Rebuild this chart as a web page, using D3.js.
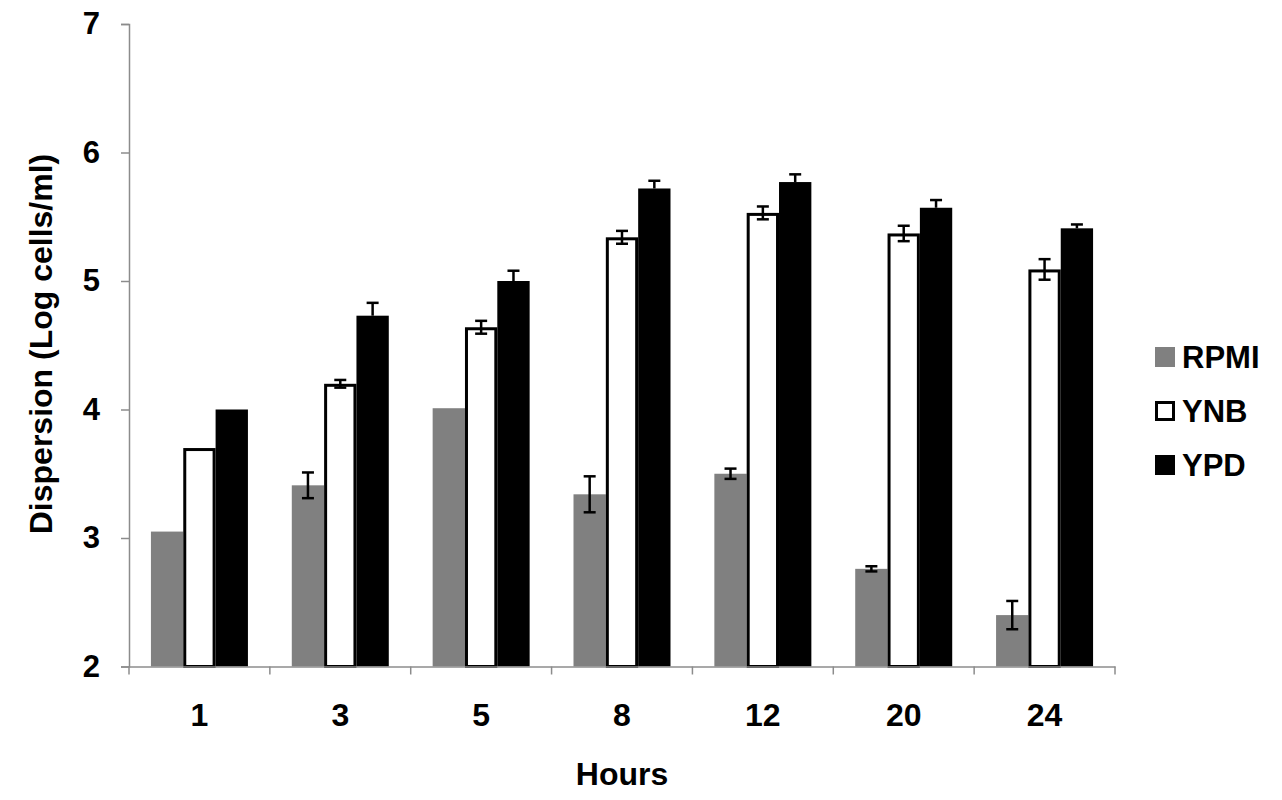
<!DOCTYPE html>
<html>
<head>
<meta charset="utf-8">
<script src="https://cdn.jsdelivr.net/npm/d3@7"></script>
<style>
  html, body { margin: 0; padding: 0; background: #fff; }
  svg { display: block; }
  text { font-family: "Liberation Sans", Arial, sans-serif; font-weight: bold; fill: #000; }
</style>
</head>
<body>
<svg id="chart" width="1282" height="800"></svg>
<script>
const categories = ["1", "3", "5", "8", "12", "20", "24"];
const seriesNames = ["RPMI", "YNB", "YPD"];
const rpmi    = [3.05, 3.41, 4.01, 3.34, 3.50, 2.76, 2.40];
const rpmiErr = [0,    0.10, 0,    0.14, 0.04, 0.02, 0.11];
const ynb     = [3.70, 4.20, 4.64, 5.34, 5.53, 5.37, 5.09];
const ynbErr  = [0,    0.03, 0.05, 0.05, 0.05, 0.06, 0.08];
const ypd     = [4.00, 4.73, 5.00, 5.72, 5.77, 5.57, 5.41];
const ypdErr  = [0,    0.10, 0.08, 0.06, 0.06, 0.06, 0.03];
const yTicks  = [2, 3, 4, 5, 6, 7];

const seriesData = [
  { name: "RPMI", values: rpmi, errs: rpmiErr, fill: "#808080", stroke: "none" },
  { name: "YNB",  values: ynb,  errs: ynbErr,  fill: "#ffffff", stroke: "#000" },
  { name: "YPD",  values: ypd,  errs: ypdErr,  fill: "#000000", stroke: "none" }
];

const svg = d3.select("#chart");
const mLeft = 129, mRight = 1115, mTop = 24, mBottom = 666.5;
const axisColor = "#8c8c8c";
const FONT = "Liberation Sans, Arial, sans-serif";

const y = d3.scaleLinear().domain([2, 7]).range([mBottom, mTop]);
const x0 = d3.scaleBand().domain(categories).range([mLeft, mRight]).padding(0);
const gap = (x0.bandwidth() - 97) / 2;
const x1 = d3.scaleBand().domain(seriesNames).range([gap, x0.bandwidth() - gap]).padding(0);

// Y axis
const yAxis = svg.append("g").attr("transform", `translate(${mLeft},0)`)
  .call(d3.axisLeft(y).tickValues(yTicks).tickSize(8).tickPadding(21).tickFormat(d3.format("d")));
yAxis.select(".domain").attr("stroke", axisColor).attr("stroke-width", 1.5);
yAxis.selectAll(".tick line").attr("stroke", axisColor).attr("stroke-width", 1.5);
yAxis.selectAll(".tick text").attr("font-size", 31).attr("font-family", FONT).attr("font-weight", "bold").attr("fill", "#000");

// Bars
const groups = svg.append("g").selectAll("g.grp")
  .data(categories).join("g")
  .attr("class", "grp")
  .attr("transform", d => `translate(${x0(d)},0)`);

seriesData.forEach(s => {
  const sw = s.stroke !== "none" ? 3 : 0;
  groups.append("rect")
    .attr("x", (d, i) => x1(s.name) + sw / 2)
    .attr("y", (d, i) => y(s.values[i]) + sw / 2)
    .attr("width", x1.bandwidth() - sw)
    .attr("height", (d, i) => y(2) - y(s.values[i]) - sw / 2)
    .attr("fill", s.fill)
    .attr("stroke", s.stroke)
    .attr("stroke-width", sw);
});

// X axis (drawn over bars)
const xAxis = svg.append("g").attr("transform", `translate(0,${mBottom})`)
  .call(d3.axisBottom(x0).tickSize(0).tickPadding(37));
xAxis.select(".domain").attr("stroke", axisColor).attr("stroke-width", 1.5);
xAxis.selectAll(".tick text").attr("font-size", 32).attr("font-family", FONT).attr("font-weight", "bold").attr("fill", "#000");
const boundaries = categories.map(c => x0(c)).concat([mRight]);
svg.append("g").selectAll("line").data(boundaries).join("line")
  .attr("x1", d => d).attr("x2", d => d)
  .attr("y1", mBottom).attr("y2", mBottom + 8)
  .attr("stroke", axisColor).attr("stroke-width", 1.5);

// Error bars
const capW = 12;
seriesData.forEach(s => {
  groups.each(function(d, i) {
    const e = s.errs[i];
    if (!(e > 0)) return;
    const cx = x1(s.name) + x1.bandwidth() / 2;
    const v = s.values[i];
    const g = d3.select(this).append("g").attr("stroke", "#000").attr("stroke-width", 2.5);
    const lo = s.name === "YPD" ? v : v - e;
    g.append("line").attr("x1", cx).attr("x2", cx).attr("y1", y(v + e)).attr("y2", y(lo));
    g.append("line").attr("x1", cx - capW/2).attr("x2", cx + capW/2).attr("y1", y(v + e)).attr("y2", y(v + e));
    if (s.name !== "YPD") {
      g.append("line").attr("x1", cx - capW/2).attr("x2", cx + capW/2).attr("y1", y(v - e)).attr("y2", y(v - e));
    }
  });
});

// Axis titles
svg.append("text")
  .attr("transform", `translate(52,344) rotate(-90)`)
  .attr("text-anchor", "middle")
  .attr("font-size", 32)
  .text("Dispersion (Log cells/ml)");

svg.append("text")
  .attr("x", (mLeft + mRight) / 2).attr("y", 785)
  .attr("text-anchor", "middle")
  .attr("font-size", 32)
  .text("Hours");

// Legend
const legendY = [357, 411, 465];
const legend = svg.append("g").attr("transform", "translate(1155,0)");
seriesData.forEach((s, i) => {
  const lg = legend.append("g").attr("transform", `translate(0,${legendY[i]})`);
  const outlined = s.stroke !== "none";
  lg.append("rect")
    .attr("x", outlined ? 1.5 : 0).attr("y", outlined ? -8.5 : -10)
    .attr("width", outlined ? 17 : 20).attr("height", outlined ? 17 : 20)
    .attr("fill", s.fill).attr("stroke", s.stroke).attr("stroke-width", 3);
  lg.append("text").attr("x", 27).attr("y", 0).attr("dy", "0.36em")
    .attr("font-size", 31).text(s.name);
});
</script>
</body>
</html>
